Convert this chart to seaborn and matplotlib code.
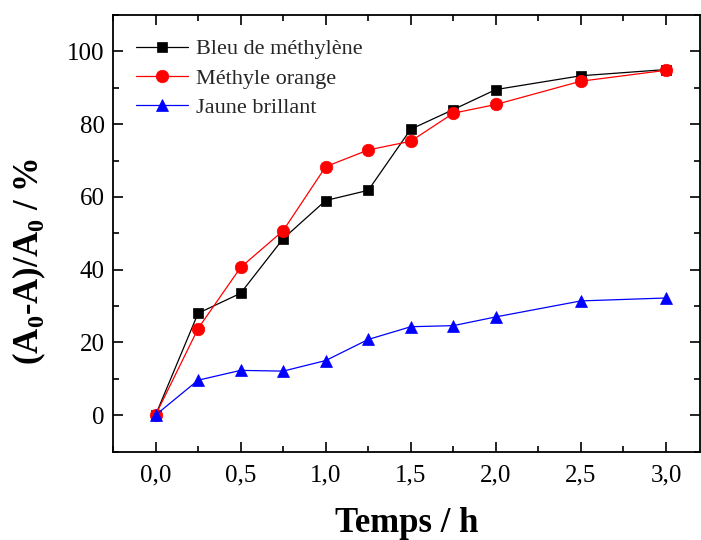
import matplotlib
matplotlib.use("Agg")
import matplotlib.pyplot as plt
import seaborn as sns
import pandas as pd
from matplotlib.ticker import MultipleLocator, FuncFormatter

time_h = [0.0, 0.25, 0.5, 0.75, 1.0, 1.25, 1.5, 1.75, 2.0, 2.5, 3.0]
bleu = [0.0, 28.0, 33.5, 48.5, 59.0, 61.8, 78.6, 84.0, 89.5, 93.3, 95.0]
orange = [0.0, 23.8, 40.6, 50.7, 68.3, 72.9, 75.3, 83.0, 85.4, 91.8, 94.8]
jaune = [0.0, 9.6, 12.3, 12.1, 15.0, 20.8, 24.3, 24.6, 27.0, 31.4, 32.2]

series_names = ["Bleu de méthylène", "Méthyle orange", "Jaune brillant"]
series_values = [bleu, orange, jaune]
colors = ["black", "red", "blue"]
markers = ["s", "o", "^"]
msizes = [7.5, 9, 9]

sns.set_theme(style="ticks")
plt.rcParams["font.family"] = ["Liberation Serif", "DejaVu Serif"]
plt.rcParams["mathtext.fontset"] = "custom"
plt.rcParams["mathtext.rm"] = "Liberation Serif"
plt.rcParams["mathtext.bf"] = "Liberation Serif:bold"

fig = plt.figure(figsize=(7.01, 5.40), dpi=100)
ax = fig.add_axes([113 / 701, 1 - 451.5 / 540, (700 - 113) / 701, (451.5 - 15) / 540])

for name, vals, c, m, ms in zip(series_names, series_values, colors, markers, msizes):
    df = pd.DataFrame({"t": time_h, "v": vals})
    sns.lineplot(data=df, x="t", y="v", ax=ax, color=c, marker=m, markersize=ms,
                 markeredgecolor=c, markeredgewidth=0.5, linewidth=0.9,
                 label=name)

ax.set_xlim(-0.25, 3.2)
ax.set_ylim(-10, 110)
ax.xaxis.set_major_locator(MultipleLocator(0.5))
ax.xaxis.set_minor_locator(MultipleLocator(0.25))
ax.yaxis.set_major_locator(MultipleLocator(20))
ax.yaxis.set_minor_locator(MultipleLocator(10))
ax.xaxis.set_major_formatter(FuncFormatter(lambda v, p: f"{v:.1f}".replace(".", ",")))
ax.yaxis.set_major_formatter(FuncFormatter(lambda v, p: f"{v:.0f}"))

for s in ax.spines.values():
    s.set_visible(True)
    s.set_linewidth(1.3)
    s.set_color("black")

ax.tick_params(which="both", direction="in", top=True, right=True, color="black", width=1.2)
ax.tick_params(which="major", length=7, labelsize=18, labelcolor="black")
ax.tick_params(which="minor", length=4)
ax.tick_params(axis="x", which="major", pad=9)
ax.tick_params(axis="y", which="major", pad=6)

ax.set_xlabel("Temps / h", fontsize=25, fontweight="bold", color="black", labelpad=15)
ax.set_ylabel(r"(A$_\mathbf{0}$-A)/A$_\mathbf{0}$ / %", fontsize=25, fontweight="bold",
              color="black")
ax.yaxis.set_label_coords(-0.110, 0.436)

leg = ax.legend(loc="upper left", bbox_to_anchor=(0.024, 0.966), frameon=False, fontsize=16,
                handlelength=2.35, handletextpad=0.36, labelspacing=0.4, borderaxespad=0.0)

fig.savefig("out.png", dpi=100)
